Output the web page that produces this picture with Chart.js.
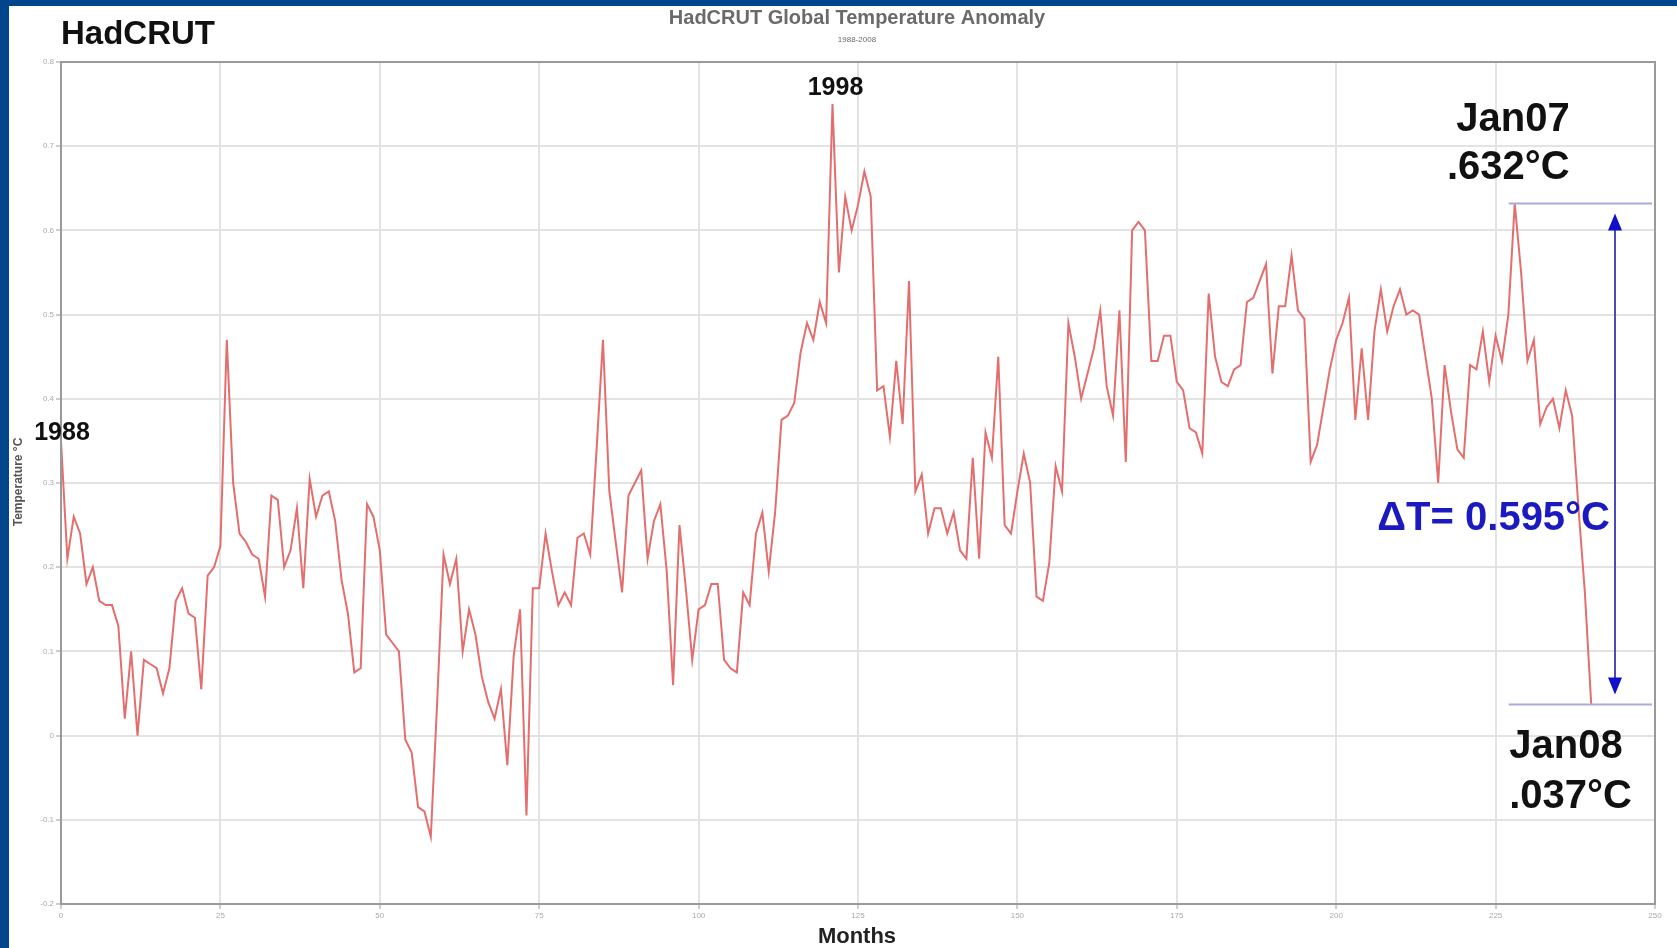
<!DOCTYPE html>
<html>
<head>
<meta charset="utf-8">
<script src="https://cdn.jsdelivr.net/npm/chart.js@4/dist/chart.umd.min.js"></script>
<style>
  html, body { margin: 0; padding: 0; background: #fff; }
  canvas { display: block; }
</style>
</head>
<body>
<canvas id="myChart" width="1677" height="948"></canvas>
<script>
// monthly HadCRUT anomaly (°C), Jan 1988 .. Jan 2008
const anomaly = [
  0.35, 0.21, 0.26, 0.24, 0.18, 0.20, 0.16, 0.155, 0.155, 0.13, 0.02, 0.10,      // 1988
  0.00, 0.09, 0.085, 0.08, 0.05, 0.08, 0.16, 0.175, 0.145, 0.14, 0.055, 0.19,    // 1989
  0.20, 0.225, 0.47, 0.30, 0.24, 0.23, 0.215, 0.21, 0.165, 0.285, 0.28, 0.20,    // 1990
  0.22, 0.27, 0.175, 0.305, 0.26, 0.285, 0.29, 0.255, 0.185, 0.145, 0.075, 0.08, // 1991
  0.275, 0.26, 0.22, 0.12, 0.11, 0.10, -0.005, -0.02, -0.085, -0.09, -0.12, 0.04,// 1992
  0.215, 0.18, 0.21, 0.10, 0.15, 0.12, 0.07, 0.04, 0.02, 0.055, -0.035, 0.095,   // 1993
  0.15, -0.095, 0.175, 0.175, 0.24, 0.195, 0.155, 0.17, 0.155, 0.235, 0.24, 0.215, // 1994
  0.34, 0.47, 0.29, 0.23, 0.17, 0.285, 0.30, 0.315, 0.21, 0.255, 0.275, 0.195,   // 1995
  0.06, 0.25, 0.175, 0.09, 0.15, 0.155, 0.18, 0.18, 0.09, 0.08, 0.075, 0.17,     // 1996
  0.155, 0.24, 0.265, 0.195, 0.265, 0.375, 0.38, 0.395, 0.455, 0.49, 0.47, 0.515, // 1997
  0.49, 0.75, 0.55, 0.64, 0.60, 0.63, 0.67, 0.64, 0.41, 0.415, 0.355, 0.445,     // 1998
  0.37, 0.54, 0.29, 0.31, 0.24, 0.27, 0.27, 0.24, 0.265, 0.22, 0.21, 0.33,       // 1999
  0.21, 0.36, 0.33, 0.45, 0.25, 0.24, 0.29, 0.335, 0.30, 0.165, 0.16, 0.205,     // 2000
  0.32, 0.29, 0.49, 0.45, 0.40, 0.43, 0.46, 0.505, 0.415, 0.38, 0.505, 0.325,    // 2001
  0.60, 0.61, 0.60, 0.445, 0.445, 0.475, 0.475, 0.42, 0.41, 0.365, 0.36, 0.335,  // 2002
  0.525, 0.45, 0.42, 0.415, 0.435, 0.44, 0.515, 0.52, 0.54, 0.56, 0.43, 0.51,    // 2003
  0.51, 0.57, 0.505, 0.495, 0.325, 0.345, 0.39, 0.435, 0.47, 0.49, 0.52, 0.375,  // 2004
  0.46, 0.375, 0.48, 0.53, 0.48, 0.51, 0.53, 0.50, 0.505, 0.50, 0.45, 0.40,      // 2005
  0.30, 0.44, 0.385, 0.34, 0.33, 0.44, 0.435, 0.48, 0.42, 0.475, 0.445, 0.50,    // 2006
  0.632, 0.55, 0.445, 0.47, 0.37, 0.39, 0.40, 0.365, 0.41, 0.38, 0.27, 0.17,     // 2007
  0.037                                                                          // 2008
];

const xTicks = [0, 25, 50, 75, 100, 125, 150, 175, 200, 225, 250];
const yTicks = [-0.2, -0.1, 0, 0.1, 0.2, 0.3, 0.4, 0.5, 0.6, 0.7, 0.8];

const yearNotes = ['1988', '1998'];
const yearMonths = [0, 121];
const janMonths = [228, 240];
const janNames = ['Jan07', 'Jan08'];
const janTexts = ['.632°C', '.037°C'];
const deltaText = 'ΔT= 0.595°C';

document.addEventListener("DOMContentLoaded", function () {
    const ctx = document.getElementById('myChart').getContext('2d');

    const decor = {
        id: 'decor',
        beforeDraw(chart) {
            const c = chart.ctx;
            c.save();
            c.fillStyle = '#ffffff';
            c.fillRect(0, 0, chart.width, chart.height);
            // slide frame
            c.fillStyle = '#00468c';
            c.fillRect(0, 0, chart.width, 6);
            c.fillRect(0, 0, 9, chart.height);
            c.restore();
        },
        afterDatasetsDraw(chart) {
            const c = chart.ctx;
            const { left, right, top, bottom } = chart.chartArea;
            const xs = chart.scales.x, ys = chart.scales.y;
            c.save();

            // plot frame
            c.strokeStyle = '#9a9a9a';
            c.lineWidth = 2;
            c.strokeRect(left, top, right - left, bottom - top);

            // titles
            c.fillStyle = '#111';
            c.font = 'bold 33px "Liberation Sans", Arial';
            c.textAlign = 'left';
            c.textBaseline = 'middle';
            c.fillText('HadCRUT', 61, 35);

            c.fillStyle = '#6a6a6a';
            c.textAlign = 'center';
            c.font = 'bold 20px "Liberation Sans", Arial';
            c.fillText('HadCRUT Global Temperature Anomaly', 857, 18);
            c.font = '8px "Liberation Sans", Arial';
            c.fillText('1988-2008', 857, 40);

            c.fillStyle = '#222';
            c.font = 'bold 22px "Liberation Sans", Arial';
            c.fillText('Months', 857, 937);

            c.save();
            c.translate(19, 482);
            c.rotate(-Math.PI / 2);
            c.fillStyle = '#555';
            c.font = 'bold 12px "Liberation Sans", Arial';
            c.fillText('Temperature °C', 0, 0);
            c.restore();

            // year labels over the start and the 1998 peak
            c.fillStyle = '#111';
            c.font = 'bold 25px "Liberation Sans", Arial';
            yearNotes.forEach((t, i) => {
                const m = yearMonths[i];
                const px = xs.getPixelForValue(m);
                const py = ys.getPixelForValue(anomaly[m]);
                c.fillText(t, px + (i === 0 ? 1 : 3), py - (i === 0 ? 8 : 16));
            });

            // Jan07 / Jan08 markers
            const x07 = xs.getPixelForValue(janMonths[0]);
            const y07 = ys.getPixelForValue(anomaly[janMonths[0]]);
            const x08 = xs.getPixelForValue(janMonths[1]);
            const y08 = ys.getPixelForValue(anomaly[janMonths[1]]);

            c.strokeStyle = '#aaaadd';
            c.lineWidth = 2;
            c.beginPath();
            c.moveTo(x07 - 6, y07); c.lineTo(right - 3, y07);
            c.moveTo(x07 - 6, y08); c.lineTo(right - 3, y08);
            c.stroke();

            c.font = 'bold 40px "Liberation Sans", Arial';
            c.fillStyle = '#111';
            c.textAlign = 'right';
            c.fillText(janNames[0], x07 + 55, y07 - 83);
            c.fillText(janTexts[0], x07 + 55, y07 - 35);
            c.textAlign = 'left';
            c.fillText(janNames[1], x08 - 82, y08 + 43);
            c.fillText(janTexts[1], x08 - 82, y08 + 93);

            // double arrow
            const ax = right - 40;
            const yTop = y07 + 10, yBot = y08 - 10;
            c.strokeStyle = '#4c4cb4';
            c.lineWidth = 2;
            c.beginPath();
            c.moveTo(ax, yTop + 14); c.lineTo(ax, yBot - 14);
            c.stroke();
            c.fillStyle = '#1010c8';
            c.beginPath();
            c.moveTo(ax, yTop); c.lineTo(ax - 7, yTop + 17); c.lineTo(ax + 7, yTop + 17); c.closePath();
            c.moveTo(ax, yBot); c.lineTo(ax - 7, yBot - 17); c.lineTo(ax + 7, yBot - 17); c.closePath();
            c.fill();

            c.fillStyle = '#1a1ac0';
            c.font = 'bold 40px "Liberation Sans", Arial';
            c.textAlign = 'right';
            c.fillText(deltaText, ax - 5, y07 + 0.63 * (y08 - y07));

            c.restore();
        }
    };

    new Chart(ctx, {
        type: 'line',
        data: {
            datasets: [{
                data: anomaly.map((v, i) => ({ x: i, y: v })),
                borderColor: '#e46e6e',
                borderWidth: 2,
                pointRadius: 0,
                tension: 0,
                fill: false
            }]
        },
        options: {
            responsive: false,
            animation: false,
            layout: { padding: { top: 62, right: 22, left: 0, bottom: 0 } },
            plugins: {
                legend: { display: false },
                tooltip: { enabled: false }
            },
            scales: {
                x: {
                    type: 'linear',
                    min: 0,
                    max: 250,
                    afterBuildTicks(scale) { scale.ticks = xTicks.map(v => ({ value: v })); },
                    afterFit(scale) { scale.height = 44; },
                    grid: { color: '#e3e3e3', lineWidth: 2, tickLength: 5, tickColor: '#cfcfcf' },
                    border: { display: false },
                    ticks: { color: '#aaa', font: { size: 8, family: 'Liberation Sans' }, padding: 2, maxRotation: 0 }
                },
                y: {
                    min: -0.2,
                    max: 0.8,
                    afterBuildTicks(scale) { scale.ticks = yTicks.map(v => ({ value: v })); },
                    afterFit(scale) { scale.width = 61; },
                    grid: { color: '#e3e3e3', lineWidth: 2, tickLength: 5, tickColor: '#cfcfcf' },
                    border: { display: false },
                    ticks: {
                        color: '#aaa',
                        font: { size: 8, family: 'Liberation Sans' },
                        padding: 2,
                        callback: v => String(Math.round(v * 10) / 10)
                    }
                }
            }
        },
        plugins: [decor]
    });
});
</script>
</body>
</html>
